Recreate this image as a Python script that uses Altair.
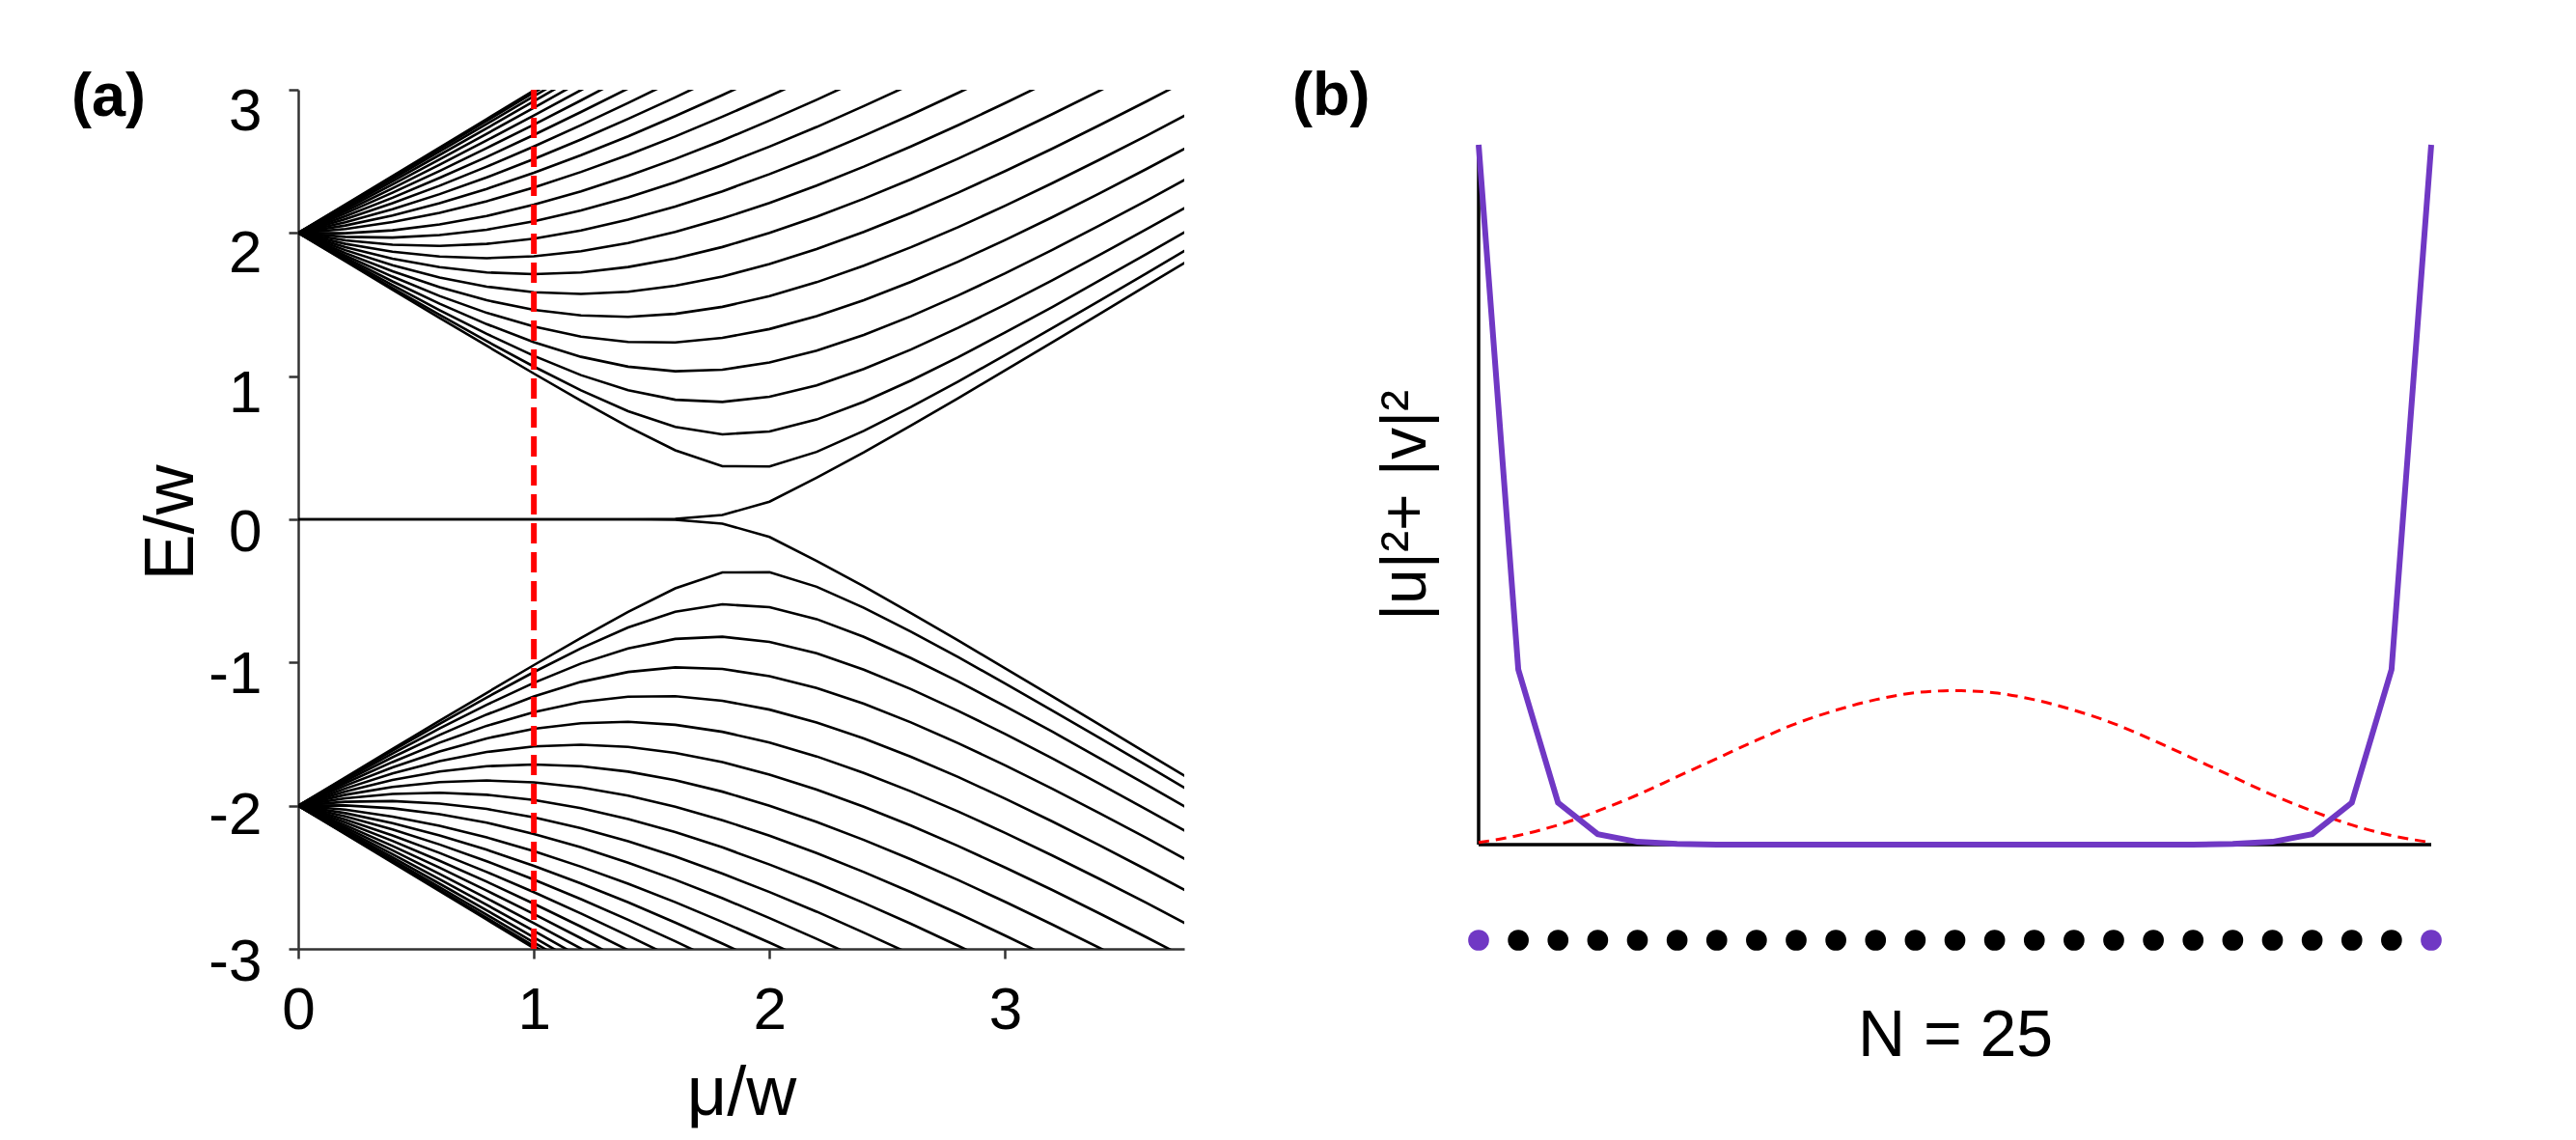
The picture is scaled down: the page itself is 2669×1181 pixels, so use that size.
import altair as alt
import pandas as pd

FONT = "Liberation Sans"

# ---------------- Panel (a): spectrum vs mu/w ----------------
MU = [0.0, 0.2, 0.4, 0.6, 0.8, 1.0, 1.2, 1.4, 1.6, 1.8,
      2.0, 2.2, 2.4, 2.6, 2.8, 3.0, 3.2, 3.4, 3.6, 3.8]

level_01 = [2, 2.199, 2.398, 2.597, 2.796, 2.995, 3.194]
level_02 = [2, 2.195, 2.390, 2.586, 2.783, 2.980, 3.177]
level_03 = [2, 2.188, 2.377, 2.569, 2.761, 2.955, 3.149]
level_04 = [2, 2.178, 2.360, 2.545, 2.731, 2.920, 3.110]
level_05 = [2, 2.166, 2.338, 2.514, 2.693, 2.875, 3.059]
level_06 = [2, 2.152, 2.311, 2.477, 2.647, 2.821, 2.998, 3.178]
level_07 = [2, 2.136, 2.281, 2.433, 2.593, 2.757, 2.926, 3.099]
level_08 = [2, 2.117, 2.246, 2.385, 2.531, 2.685, 2.845, 3.009]
level_09 = [2, 2.097, 2.208, 2.330, 2.463, 2.604, 2.753, 2.908, 3.068]
level_10 = [2, 2.075, 2.166, 2.271, 2.388, 2.516, 2.653, 2.797, 2.947, 3.104]
level_11 = [2, 2.052, 2.122, 2.208, 2.308, 2.420, 2.543, 2.675, 2.816, 2.963, 3.116]
level_12 = [2, 2.028, 2.076, 2.141, 2.222, 2.317, 2.426, 2.545, 2.674, 2.812, 2.956, 3.107]
level_13 = [2, 1.998, 2.018, 2.059, 2.119, 2.197, 2.290, 2.398, 2.517, 2.646, 2.785, 2.930, 3.082]
level_14 = [2, 1.973, 1.968, 1.985, 2.023, 2.081, 2.157, 2.249, 2.355, 2.474, 2.603, 2.740, 2.886, 3.037]
level_15 = [2, 1.948, 1.918, 1.910, 1.924, 1.960, 2.017, 2.093, 2.185, 2.291, 2.411, 2.540, 2.679,
            2.825, 2.978, 3.136]
level_16 = [2, 1.924, 1.869, 1.835, 1.824, 1.837, 1.873, 1.930, 2.007, 2.101, 2.209, 2.331, 2.463,
            2.604, 2.752, 2.907, 3.067]
level_17 = [2, 1.901, 1.820, 1.761, 1.724, 1.712, 1.724, 1.762, 1.822, 1.902, 2.000, 2.113, 2.239,
            2.375, 2.519, 2.671, 2.830, 2.993, 3.160]
level_18 = [2, 1.880, 1.775, 1.689, 1.625, 1.586, 1.574, 1.589, 1.631, 1.696, 1.783, 1.888, 2.007,
            2.139, 2.281, 2.432, 2.589, 2.752, 2.919, 3.090]
level_19 = [2, 1.860, 1.733, 1.622, 1.530, 1.463, 1.424, 1.414, 1.435, 1.484, 1.559, 1.656, 1.771,
            1.900, 2.040, 2.190, 2.348, 2.511, 2.679, 2.852]
level_20 = [2, 1.842, 1.695, 1.560, 1.442, 1.346, 1.276, 1.239, 1.235, 1.267, 1.329, 1.419, 1.530,
            1.658, 1.799, 1.951, 2.110, 2.276, 2.447, 2.622]
level_21 = [2, 1.828, 1.662, 1.506, 1.363, 1.237, 1.135, 1.066, 1.034, 1.045, 1.095, 1.178, 1.288,
            1.418, 1.563, 1.718, 1.882, 2.052, 2.226, 2.405]
level_22 = [2, 1.816, 1.636, 1.461, 1.295, 1.142, 1.007, 0.901, 0.835, 0.820, 0.856, 0.936, 1.050,
            1.186, 1.337, 1.499, 1.670, 1.846, 2.026, 2.209]
level_23 = [2, 1.807, 1.616, 1.428, 1.244, 1.067, 0.901, 0.755, 0.645, 0.593, 0.614, 0.697, 0.821,
            0.969, 1.132, 1.305, 1.483, 1.667, 1.853, 2.042]
level_24 = [2, 1.802, 1.604, 1.407, 1.212, 1.018, 0.828, 0.646, 0.482, 0.371, 0.369, 0.471, 0.618,
            0.785, 0.962, 1.147, 1.335, 1.526, 1.718, 1.913]
edge_mode = [0, 0, 0, 0, 0, 0, 0, 0, 0.003, 0.03, 0.123, 0.291, 0.467, 0.654, 0.846, 1.040, 1.237,
             1.434, 1.632, 1.830]

LEVELS = [level_01, level_02, level_03, level_04, level_05, level_06, level_07, level_08,
          level_09, level_10, level_11, level_12, level_13, level_14, level_15, level_16,
          level_17, level_18, level_19, level_20, level_21, level_22, level_23, level_24,
          edge_mode]

MARKER_MU = [1.0]          # red dashed marker
E_RANGE = [-3, 3]

rows = []
for i, vals in enumerate(LEVELS):
    for m, e in zip(MU, vals):
        rows.append({"mu": m, "E": e, "level": f"L{i + 1:02d}"})
spec_df = pd.DataFrame(rows)

xs_a = alt.Scale(domain=[0, 3.76], nice=False, zero=False)
ys_a = alt.Scale(domain=E_RANGE, nice=False, zero=False)

x_axis_a = alt.Axis(values=[0, 1, 2, 3], title="μ/w", grid=False,
                    domainColor="#333333", domainWidth=2.5,
                    tickColor="#333333", tickWidth=2.5, tickSize=10,
                    labelFont=FONT, labelFontSize=62, labelColor="black",
                    labelPadding=23, labelFlush=False, labelOverlap=False,
                    titleFont=FONT, titleFontSize=72, titleFontWeight="normal",
                    titleColor="black", titlePadding=20)
y_axis_a = alt.Axis(values=[-3, -2, -1, 0, 1, 2, 3], title="E/w", grid=False,
                    domainColor="#333333", domainWidth=2.5,
                    tickColor="#333333", tickWidth=2.5, tickSize=10,
                    labelFont=FONT, labelFontSize=62, labelColor="black",
                    labelPadding=28, labelFlush=False, labelOverlap=False,
                    labelExpr="(datum.value < 0 ? '-' : '') + abs(datum.value)",
                    labelOffset=alt.ExprRef(expr="datum.value == 3 ? 22 : datum.value == 2 ? 21 : "
                                                 "datum.value == 1 ? 18 : datum.value == -1 ? 12 : "
                                                 "datum.value == -2 ? 10 : 13"),
                    titleFont=FONT, titleFontSize=72, titleFontWeight="normal",
                    titleColor="black", titleX=-110, titleY=448,
                    titleBaseline="alphabetic", titleAngle=270)

upper = alt.Chart(spec_df).mark_line(color="black", strokeWidth=2.6, clip=True).encode(
    x=alt.X("mu:Q", scale=xs_a, axis=x_axis_a),
    y=alt.Y("E:Q", scale=ys_a, axis=y_axis_a),
    detail="level:N",
    order="mu:Q",
)
lower = alt.Chart(spec_df).transform_calculate(negE="-datum.E").mark_line(
    color="black", strokeWidth=2.6, clip=True).encode(
    x=alt.X("mu:Q", scale=xs_a, axis=x_axis_a),
    y=alt.Y("negE:Q", scale=ys_a, axis=y_axis_a),
    detail="level:N",
    order="mu:Q",
)
marker = alt.Chart(pd.DataFrame({"mu": MARKER_MU, "lo": [E_RANGE[0]], "hi": [E_RANGE[1]]})).mark_rule(
    color="#ff0000", strokeWidth=6, strokeDash=[21, 9]).encode(
    x=alt.X("mu:Q", scale=xs_a, axis=x_axis_a),
    y=alt.Y("lo:Q", scale=ys_a, axis=y_axis_a),
    y2="hi:Q",
)
label_a = alt.Chart(pd.DataFrame({"t": ["(a)"]})).mark_text(
    font=FONT, fontSize=63, fontWeight="bold", color="black",
    align="left", baseline="alphabetic").encode(
    text="t:N", x=alt.value(-235), y=alt.value(27))

panel_a = alt.layer(upper, lower, marker, label_a).properties(width=918, height=890)

# ---------------- Panel (b): probability density on the chain ----------------
SITES = list(range(1, 26))
EDGE_DENSITY = [1.0, 0.25, 0.06, 0.015, 0.004, 0.001, 0, 0, 0, 0, 0, 0, 0, 0, 0, 0, 0, 0, 0,
                0.001, 0.004, 0.015, 0.06, 0.25, 1.0]
BULK_DENSITY = [0.003, 0.013, 0.028, 0.048, 0.071, 0.097, 0.123, 0.149, 0.173, 0.192, 0.207, 0.217,
                0.220, 0.217, 0.207, 0.192, 0.173, 0.149, 0.123, 0.097, 0.071, 0.048, 0.028, 0.013,
                0.003]
END_SITES = [1, 25]
PURPLE = "#7038c4"

wf_df = pd.DataFrame({"site": SITES, "edge": EDGE_DENSITY, "bulk": BULK_DENSITY})

xs_b = alt.Scale(domain=[1, 25], nice=False, zero=False)
ys_b = alt.Scale(domain=[-0.149, 1.0786], nice=False, zero=False)

x_axis_b = alt.Axis(domain=False, ticks=False, labels=False, grid=False, title="N = 25",
                    titleFont=FONT, titleFontSize=68, titleFontWeight="normal",
                    titleColor="black", titlePadding=56)
y_axis_b = alt.Axis(domain=False, ticks=False, labels=False, grid=False, title="|u|²+ |v|²",
                    titleFont=FONT, titleFontSize=66, titleFontWeight="normal",
                    titleColor="black", titleX=-56, titleY=430,
                    titleBaseline="alphabetic", titleAngle=270)

axes_df = pd.DataFrame({"x0": [1, 1], "x1": [1, 25], "y0": [0, 0], "y1": [1, 0]})
axis_lines = alt.Chart(axes_df).mark_rule(color="black", strokeWidth=3.5).encode(
    x=alt.X("x0:Q", scale=xs_b, axis=x_axis_b),
    x2="x1:Q",
    y=alt.Y("y0:Q", scale=ys_b, axis=y_axis_b),
    y2="y1:Q",
)
bulk_line = alt.Chart(wf_df).mark_line(color="#ff0000", strokeWidth=3, strokeDash=[11, 7],
                                        interpolate="monotone").encode(
    x=alt.X("site:Q", scale=xs_b, axis=x_axis_b),
    y=alt.Y("bulk:Q", scale=ys_b, axis=y_axis_b),
)
edge_line = alt.Chart(wf_df).mark_line(color=PURPLE, strokeWidth=6).encode(
    x=alt.X("site:Q", scale=xs_b, axis=x_axis_b),
    y=alt.Y("edge:Q", scale=ys_b, axis=y_axis_b),
)
dots = alt.Chart(wf_df).mark_circle(size=470, opacity=1).encode(
    x=alt.X("site:Q", scale=xs_b, axis=x_axis_b),
    y=alt.value(881),
    color=alt.condition(f"indexof({END_SITES}, datum.site) >= 0", alt.value(PURPLE), alt.value("black")),
)
label_b = alt.Chart(pd.DataFrame({"t": ["(b)"]})).mark_text(
    font=FONT, fontSize=63, fontWeight="bold", color="black",
    align="left", baseline="alphabetic").encode(
    text="t:N", x=alt.value(-193), y=alt.value(26))

panel_b = alt.layer(axis_lines, bulk_line, edge_line, dots, label_b).properties(width=987, height=890)

chart = alt.hconcat(panel_a, panel_b, spacing=305, bounds="flush").properties(
    padding={"left": 66, "top": 61, "right": 10, "bottom": 10},
    background="white",
).configure_view(stroke=None)

chart.save("out.html", embed_options={"renderer": "svg", "actions": False})
